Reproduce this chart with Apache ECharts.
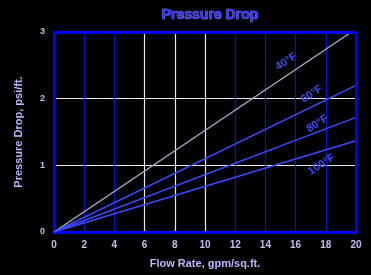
<!DOCTYPE html>
<html>
<head>
<meta charset="utf-8">
<script src="https://cdn.jsdelivr.net/npm/echarts@6/dist/echarts.min.js"></script>
<style>
  html, body { margin: 0; padding: 0; background: #000; }
  #chart { width: 371px; height: 275px; }
</style>
</head>
<body>
<div id="chart"></div>
<script>
// values
const xTicks = [0, 2, 4, 6, 8, 10, 12, 14, 16, 18, 20];
const yTicks = [0, 1, 2, 3];
const curveNames = ['40°F', '60°F', '80°F', '100°F'];
const curveStarts = [[0, 0], [0, 0], [0, 0], [0, 0]];
const curveEnds = [[19.7, 3], [20, 2.2], [20, 1.72], [20, 1.37]];

const font = "'Liberation Sans Narrow', 'Liberation Sans', Arial, sans-serif";
const lineColors = ['#a8a8c8', '#3a4cff', '#3a4cff', '#3a4cff'];
const labelOffsets = [[-55, -8], [-26, -14], [-20, -13], [-23, 4]];

// vertical grid: 6, 8, 10 white, the rest blue
const xSplitColors = xTicks.map(v => (v >= 6 && v <= 10) ? '#e8e8f0' : '#1010d0');
const ySplitColors = yTicks.map(v => (v === 1 || v === 2) ? '#e8e8f0' : '#1010d0');

const series = curveNames.map((name, i) => ({
    name: name,
    type: 'line',
    symbol: 'circle',
    symbolSize: 0,
    showSymbol: true,
    lineStyle: { color: lineColors[i], width: 1.5 },
    data: [
        curveStarts[i],
        {
            value: curveEnds[i],
            label: {
                show: true,
                formatter: name,
                position: 'left',
                offset: labelOffsets[i],
                rotate: 33,
                color: '#3a4cff',
                fontFamily: font,
                fontSize: 11,
                fontWeight: 'bold'
            }
        }
    ]
}));

const chart = echarts.init(document.getElementById('chart'));
chart.setOption({
    backgroundColor: '#000',
    animation: false,
    title: {
        text: 'Pressure Drop',
        left: 205,
        textAlign: 'center',
        top: 3,
        textStyle: {
            color: '#3535ff',
            fontFamily: font,
            fontSize: 14,
            fontWeight: 'bold',
            textBorderColor: '#a0a0ff',
            textBorderWidth: 0.6
        }
    },
    grid: { left: 54, right: 15, top: 32, bottom: 43 },
    xAxis: {
        type: 'value',
        min: 0,
        max: 20,
        interval: 2,
        name: 'Flow Rate, gpm/sq.ft.',
        nameLocation: 'middle',
        nameGap: 26,
        nameTextStyle: { color: '#b8b8ff', fontFamily: font, fontSize: 11, fontWeight: 'bold' },
        axisLine: { lineStyle: { color: '#0000ff', width: 3 } },
        axisTick: { show: false },
        axisLabel: { color: '#c0c0ee', fontFamily: font, fontSize: 10, fontWeight: 'bold', margin: 8 },
        splitLine: { show: true, lineStyle: { color: xSplitColors, width: 1.2 } }
    },
    yAxis: {
        type: 'value',
        min: 0,
        max: 3,
        interval: 1,
        name: 'Pressure Drop, psi/ft.',
        nameLocation: 'middle',
        nameGap: 30,
        nameTextStyle: { color: '#b8b8ff', fontFamily: font, fontSize: 11, fontWeight: 'bold' },
        axisLine: { show: true, lineStyle: { color: '#0000ff', width: 3 } },
        axisTick: { show: false },
        axisLabel: { color: '#c0c0ee', fontFamily: font, fontSize: 9, fontWeight: 'bold', margin: 9 },
        splitLine: { show: true, lineStyle: { color: ySplitColors, width: 1.2 } }
    },
    series: series.concat([{
        // frame on the top and right edges
        type: 'line',
        data: [],
        markLine: {
            silent: true,
            symbol: 'none',
            label: { show: false },
            lineStyle: { color: '#0000ff', width: 3, type: 'solid' },
            data: [{ yAxis: 3 }, { xAxis: 20 }]
        }
    }])
});
</script>
</body>
</html>
